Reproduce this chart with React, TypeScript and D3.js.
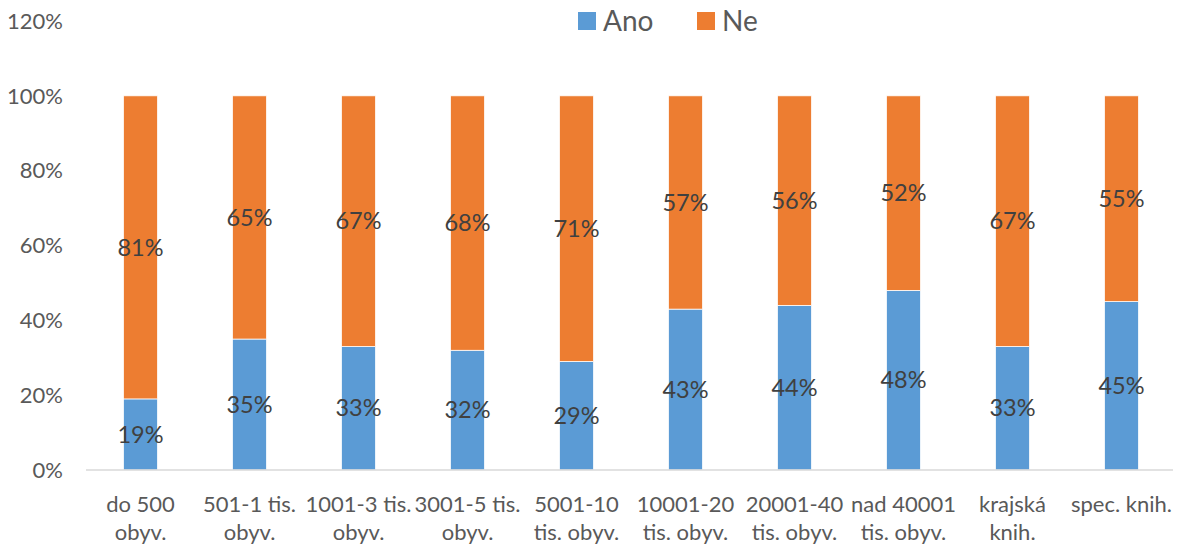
import * as d3 from "d3";
import React, { useEffect, useRef } from "react";

const categories = [
  "do 500\nobyv.",
  "501-1 tis.\nobyv.",
  "1001-3 tis.\nobyv.",
  "3001-5 tis.\nobyv.",
  "5001-10\ntis. obyv.",
  "10001-20\ntis. obyv.",
  "20001-40\ntis. obyv.",
  "nad 40001\ntis. obyv.",
  "krajská\nknih.",
  "spec. knih.",
];
const ano = [19, 35, 33, 32, 29, 43, 44, 48, 33, 45];
const ne = [81, 65, 67, 68, 71, 57, 56, 52, 67, 55];
const yTicks = [0, 20, 40, 60, 80, 100, 120];
const seriesNames = ["Ano", "Ne"];
const colors = ["#5B9BD5", "#ED7D31"];

const FONT = "Lato, 'Open Sans', sans-serif";

const App = () => {
  const svgRef = useRef(null);

  useEffect(() => {
    const svg = d3.select(svgRef.current);
    svg.selectAll("*").remove();

    const width = 1180;
    const height = 545;
    const left = 86;
    const right = 1176;
    const top = 21;
    const bottom = 470;

    const x = d3
      .scaleBand()
      .domain(categories)
      .range([left, right])
      .paddingInner(0.688)
      .paddingOuter(0.344);
    const y = d3.scaleLinear().domain([0, 120]).range([bottom, top]);

    svg.attr("width", width).attr("height", height);

    // y tick labels
    svg
      .append("g")
      .selectAll("text")
      .data(yTicks)
      .join("text")
      .attr("x", 63)
      .attr("y", (d) => y(d))
      .attr("dy", "0.35em")
      .attr("text-anchor", "end")
      .style("font-family", FONT)
      .style("font-size", "22px")
      .style("fill", "#595959")
      .text((d) => d + "%");

    const rows = categories.map((c, i) => ({ c, a: ano[i], n: ne[i] }));

    const g = svg.append("g");
    // Ano bars
    g.selectAll(".ano")
      .data(rows)
      .join("rect")
      .attr("class", "ano")
      .attr("x", (d) => x(d.c)!)
      .attr("width", x.bandwidth())
      .attr("y", (d) => y(d.a))
      .attr("height", (d) => y(0) - y(d.a))
      .attr("fill", colors[0])
      .attr("stroke", "#fff")
      .attr("stroke-width", 0.75);
    // Ne bars
    g.selectAll(".ne")
      .data(rows)
      .join("rect")
      .attr("class", "ne")
      .attr("x", (d) => x(d.c)!)
      .attr("width", x.bandwidth())
      .attr("y", (d) => y(d.a + d.n))
      .attr("height", (d) => y(d.a) - y(d.a + d.n))
      .attr("fill", colors[1])
      .attr("stroke", "#fff")
      .attr("stroke-width", 0.75);

    // axis line
    svg
      .append("line")
      .attr("x1", left)
      .attr("x2", right - 3)
      .attr("y1", y(0))
      .attr("y2", y(0))
      .attr("stroke", "#D9D9D9")
      .attr("stroke-width", 1.5);

    // data labels
    const labels = svg.append("g");
    labels
      .selectAll(".la")
      .data(rows)
      .join("text")
      .attr("class", "la")
      .attr("x", (d) => x(d.c)! + x.bandwidth() / 2)
      .attr("y", (d) => (y(0) + y(d.a)) / 2)
      .attr("dy", "0.35em")
      .attr("text-anchor", "middle")
      .style("font-family", FONT)
      .style("font-size", "23.5px")
      .style("fill", "#404040")
      .text((d) => d.a + "%");
    labels
      .selectAll(".ln")
      .data(rows)
      .join("text")
      .attr("class", "ln")
      .attr("x", (d) => x(d.c)! + x.bandwidth() / 2)
      .attr("y", (d) => (y(d.a) + y(d.a + d.n)) / 2)
      .attr("dy", "0.35em")
      .attr("text-anchor", "middle")
      .style("font-family", FONT)
      .style("font-size", "23.5px")
      .style("fill", "#404040")
      .text((d) => d.n + "%");

    // category labels
    const cat = svg
      .append("g")
      .selectAll("text")
      .data(categories)
      .join("text")
      .attr("x", (d) => x(d)! + x.bandwidth() / 2)
      .attr("y", 512)
      .attr("text-anchor", "middle")
      .style("font-family", FONT)
      .style("font-size", "22px")
      .style("fill", "#595959");
    cat.each(function (d) {
      const t = d3.select(this);
      d.split("\n").forEach((line, i) => {
        t.append("tspan")
          .attr("x", x(d)! + x.bandwidth() / 2)
          .attr("dy", i === 0 ? 0 : 28)
          .text(line);
      });
    });

    // legend
    const legend = svg.append("g");
    const lx = [578, 697];
    seriesNames.forEach((name, i) => {
      legend
        .append("rect")
        .attr("x", lx[i])
        .attr("y", 12)
        .attr("width", 18)
        .attr("height", 18)
        .attr("fill", colors[i]);
      legend
        .append("text")
        .attr("x", lx[i] + 25)
        .attr("y", 21)
        .attr("dy", "0.35em")
        .style("font-family", FONT)
        .style("font-size", "28px")
        .style("fill", "#595959")
        .text(name);
    });
  }, []);

  return (
    <svg
      ref={svgRef}
      style={{ position: "absolute", left: 0, top: 0, background: "#fff" }}
    ></svg>
  );
};

export default App;
